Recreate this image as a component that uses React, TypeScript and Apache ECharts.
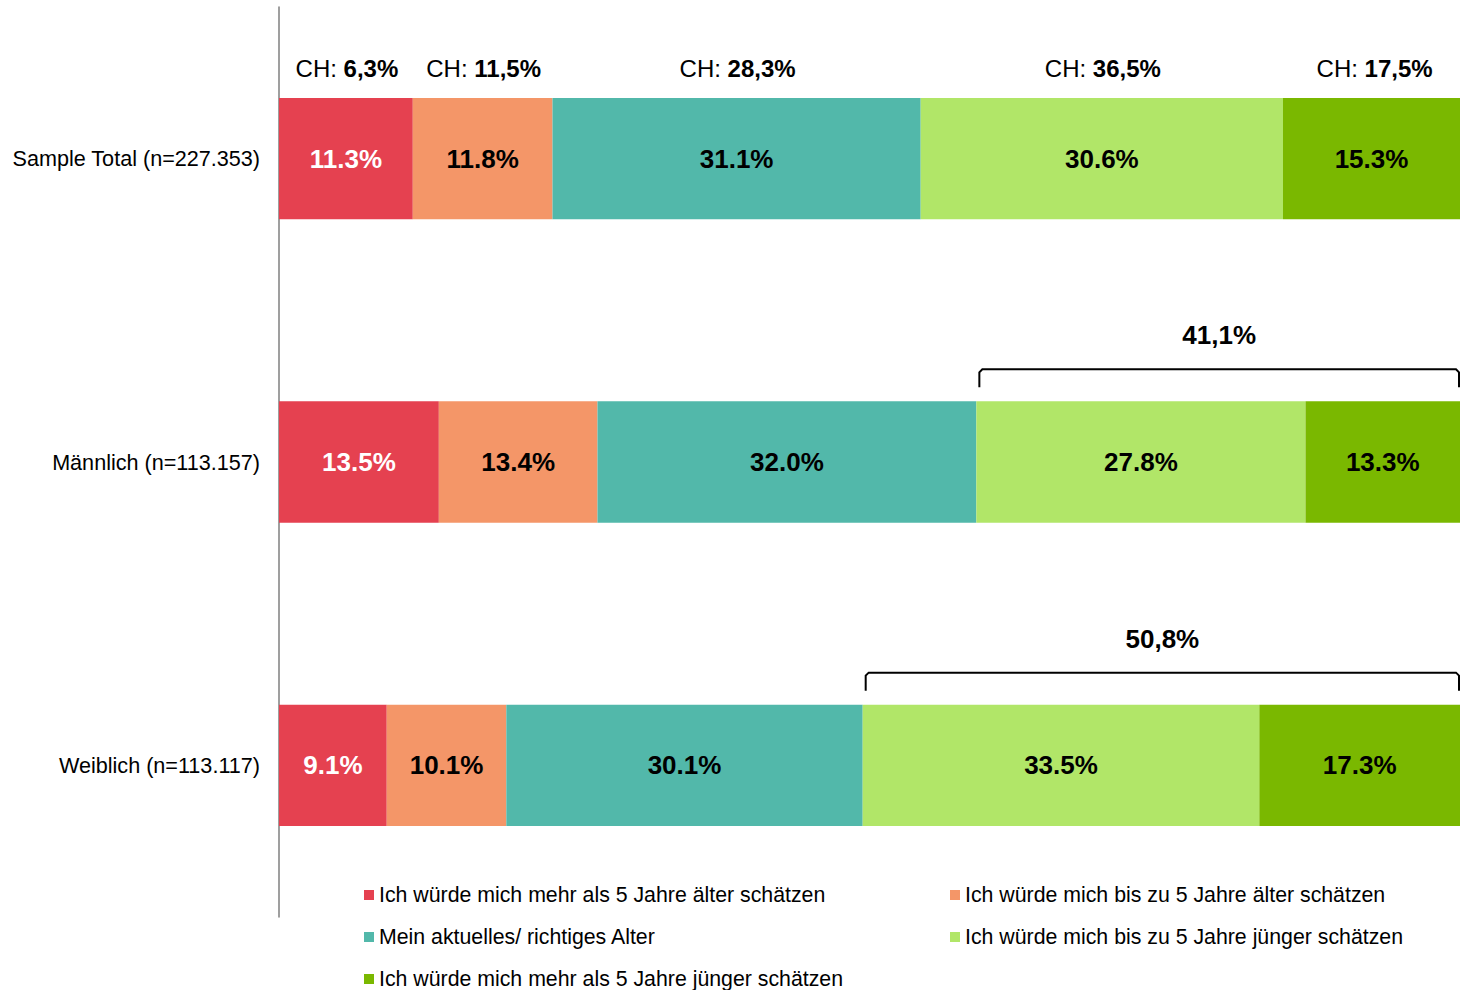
import React, { useEffect, useRef } from "react";
import * as echarts from "echarts";

const FONT = 'Arial, "Liberation Sans", sans-serif';

const categories = ["Sample Total (n=227.353)", "Männlich (n=113.157)", "Weiblich (n=113.117)"];
const seriesNames = [
  "Ich würde mich mehr als 5 Jahre älter schätzen",
  "Ich würde mich bis zu 5 Jahre älter schätzen",
  "Mein aktuelles/ richtiges Alter",
  "Ich würde mich bis zu 5 Jahre jünger schätzen",
  "Ich würde mich mehr als 5 Jahre jünger schätzen",
];
const muchOlder = [11.3, 13.5, 9.1];
const slightlyOlder = [11.8, 13.4, 10.1];
const actualAge = [31.1, 32.0, 30.1];
const slightlyYounger = [30.6, 27.8, 33.5];
const muchYounger = [15.3, 13.3, 17.3];
const chValues = ["6,3%", "11,5%", "28,3%", "36,5%", "17,5%"];
const bracketLabels = [null, "41,1%", "50,8%"];

const colors = ["#E54150", "#F49668", "#52B8AA", "#B1E668", "#7AB800"];
const labelColors = ["#ffffff", "#000000", "#000000", "#000000", "#000000"];

export default function App() {
  const ref = useRef<HTMLDivElement>(null);
  useEffect(() => {
    if (!ref.current) return;
    const chart = echarts.init(ref.current, null, { renderer: "svg" });
    const all = [muchOlder, slightlyOlder, actualAge, slightlyYounger, muchYounger];

    const chData: number[][] = [];
    let acc = 0;
    for (let i = 0; i < all.length; i++) {
      chData.push([acc, acc + all[i][0], 0]);
      acc += all[i][0];
    }
    const bracketData: number[][] = [];
    const bracketText: string[] = [];
    bracketLabels.forEach((lab, r) => {
      if (!lab) return;
      const start = all[0][r] + all[1][r] + all[2][r];
      const end = start + all[3][r] + all[4][r];
      bracketData.push([start, end, r]);
      bracketText.push(lab);
    });

    const legendPos = [
      [364, 895],
      [950, 895],
      [364, 937],
      [950, 937],
      [364, 979],
    ];

    const option: any = {
      animation: false,
      grid: { left: 279, right: 0, top: 7, bottom: 73 },
      xAxis: { type: "value", min: 0, max: 99.75, show: false },
      yAxis: {
        type: "category",
        data: categories,
        inverse: true,
        axisLine: { show: true, lineStyle: { color: "#7f7f7f", width: 1.5 } },
        axisTick: { show: false },
        axisLabel: { color: "#000", fontSize: 21.6, fontFamily: FONT, margin: 19 },
      },
      legend: seriesNames.map((n, i) => ({
        data: [n],
        left: legendPos[i][0],
        top: legendPos[i][1] - 12,
        padding: 0,
        itemWidth: 10,
        itemHeight: 10,
        icon: "rect",
        selectedMode: false,
        textStyle: { color: "#000", fontSize: 21.3, fontFamily: FONT, lineHeight: 24 },
      })),
      series: [
        ...all.map((vals, i) => ({
          name: seriesNames[i],
          type: "bar",
          stack: "total",
          barWidth: "40%",
          data: vals,
          itemStyle: { color: colors[i] },
          label: {
            show: true,
            position: "inside",
            formatter: (p: any) => p.value.toFixed(1) + "%",
            color: labelColors[i],
            fontSize: 26,
            fontWeight: "bold",
            fontFamily: FONT,
          },
        })),
        {
          type: "custom",
          coordinateSystem: "cartesian2d",
          clip: false,
          silent: true,
          z: 10,
          encode: { x: [0, 1], y: 2 },
          data: chData,
          renderItem: (params: any, api: any) => {
            const s = api.value(0), e = api.value(1), r = api.value(2);
            const p0 = api.coord([s, r]);
            const p1 = api.coord([e, r]);
            const band = api.size([0, 1])[1];
            const top = p0[1] - (band * 0.4) / 2;
            return {
              type: "text",
              x: (p0[0] + p1[0]) / 2 + 1,
              y: top - 30,
              style: {
                text: "CH: {b|" + chValues[params.dataIndex] + "}",
                rich: { b: { fontWeight: "bold", fontSize: 24, fontFamily: FONT, fill: "#000" } },
                fontSize: 24,
                fontFamily: FONT,
                fill: "#000",
                align: "center",
                verticalAlign: "middle",
              },
            };
          },
        },
        {
          type: "custom",
          coordinateSystem: "cartesian2d",
          clip: false,
          silent: true,
          z: 10,
          encode: { x: [0, 1], y: 2 },
          data: bracketData,
          renderItem: (params: any, api: any) => {
            const s = api.value(0), e = api.value(1), r = api.value(2);
            const p0 = api.coord([s, r]);
            const p1 = api.coord([e, r]);
            const band = api.size([0, 1])[1];
            const top = p0[1] - (band * 0.4) / 2;
            const x0 = p0[0] + 3;
            const x1 = Math.min(p1[0], 1459);
            const yt = top - 32;
            const yb = top - 14;
            return {
              type: "group",
              children: [
                {
                  type: "polyline",
                  shape: {
                    points: [
                      [x0, yb],
                      [x0, yt + 3],
                      [x0 + 3, yt],
                      [x1 - 3, yt],
                      [x1, yt + 3],
                      [x1, yb],
                    ],
                  },
                  style: { stroke: "#000", lineWidth: 2, fill: null },
                },
                {
                  type: "text",
                  x: (x0 + x1) / 2,
                  y: top - 66,
                  style: {
                    text: bracketText[params.dataIndex],
                    fontSize: 26,
                    fontWeight: "bold",
                    fontFamily: FONT,
                    fill: "#000",
                    align: "center",
                    verticalAlign: "middle",
                  },
                },
              ],
            };
          },
        },
      ],
    };
    chart.setOption(option);
    return () => chart.dispose();
  }, []);
  return (
    <div
      ref={ref}
      style={{ position: "absolute", left: 0, top: 0, width: 1460, height: 990, background: "#fff" }}
    />
  );
}
